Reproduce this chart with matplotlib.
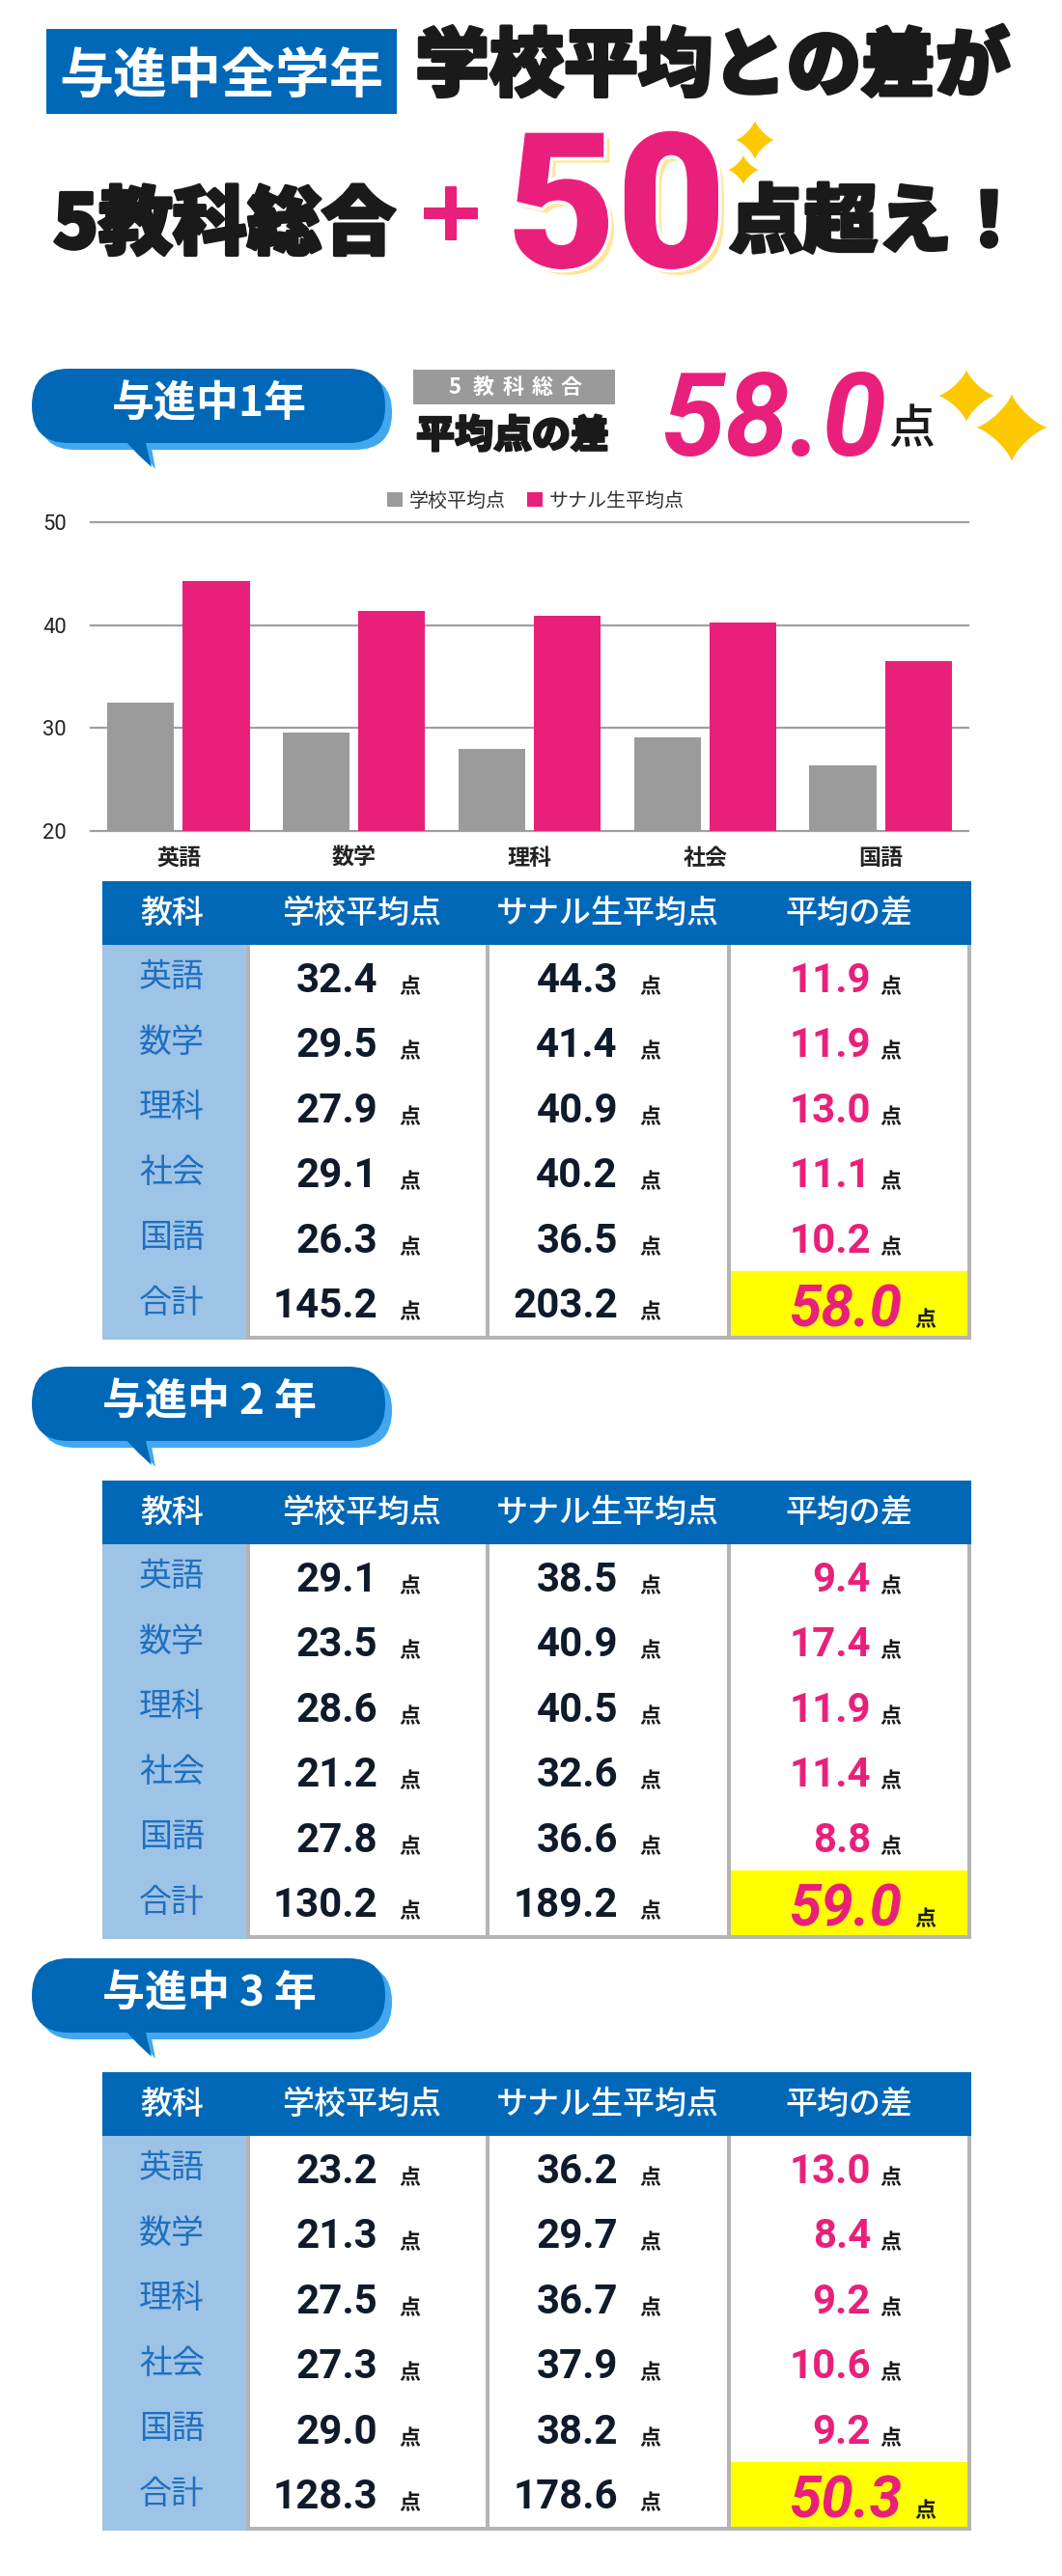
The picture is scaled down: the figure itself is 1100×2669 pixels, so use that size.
import numpy as np
import matplotlib
matplotlib.use("Agg")
import matplotlib.pyplot as plt
from matplotlib import font_manager as fm
from matplotlib import patheffects as pe
from matplotlib.patches import Rectangle, FancyBboxPatch, Polygon

# ---------------- data ----------------
subjects = ["英語", "数学", "理科", "社会", "国語"]
total_label = "合計"
series_names = ["学校平均点", "サナル生平均点"]
header_labels = ["教科", "学校平均点", "サナル生平均点", "平均の差"]
yticks = [20, 30, 40, 50]

g1_school = [32.4, 29.5, 27.9, 29.1, 26.3]
g1_sanaru = [44.3, 41.4, 40.9, 40.2, 36.5]
g1_diff = [11.9, 11.9, 13.0, 11.1, 10.2]
g1_total = [145.2, 203.2, 58.0]

g2_school = [29.1, 23.5, 28.6, 21.2, 27.8]
g2_sanaru = [38.5, 40.9, 40.5, 32.6, 36.6]
g2_diff = [9.4, 17.4, 11.9, 11.4, 8.8]
g2_total = [130.2, 189.2, 59.0]

g3_school = [23.2, 21.3, 27.5, 27.3, 29.0]
g3_sanaru = [36.2, 29.7, 36.7, 37.9, 38.2]
g3_diff = [13.0, 8.4, 9.2, 10.6, 9.2]
g3_total = [128.3, 178.6, 50.3]

grade_labels = ["与進中1年", "与進中 2 年", "与進中 3 年"]
headline_value = "58.0"

# ---------------- fonts / colours ----------------
def has(fam):
    try:
        fm.findfont(fm.FontProperties(family=fam), fallback_to_default=False)
        return True
    except Exception:
        return False

CJK = "Noto Sans CJK JP"
NUM = "Roboto" if has("Roboto") else "DejaVu Sans"
plt.rcParams["font.family"] = [CJK, "DejaVu Sans"]

BLUE = "#0068b7"
SHADOW = "#41a8f0"
LBLUE = "#9dc3e6"
PINK = "#e9207b"
CREAM = "#ffe79a"
GRAYBAR = "#9b9b9b"
TGRAY = "#b4b4b4"
YELLOW = "#ffff00"
NAVY = "#0f1a2a"
SPARK = "#fcc800"

W, H = 1100, 2669
fig = plt.figure(figsize=(W / 100, H / 100), dpi=100)
bg = fig.add_axes([0, 0, 1, 1])
bg.set_xlim(0, W)
bg.set_ylim(H, 0)
bg.axis("off")


def pt(pxv):
    return pxv * 0.72


def T(x, y, s, size, color="black", family=None, weight="normal", style="normal",
      ha="left", va="center", **kw):
    fam = family if family is not None else [CJK, "DejaVu Sans"]
    return bg.text(x, y, s, fontsize=pt(size), color=color, family=fam,
                   fontweight=weight, fontstyle=style, ha=ha, va=va, **kw)


def sparkle(cx, cy, rx, ry):
    t = np.linspace(0, 2 * np.pi, 200)
    c, s = np.cos(t), np.sin(t)
    xs = cx + rx * np.sign(c) * np.abs(c) ** 2.6
    ys = cy + ry * np.sign(s) * np.abs(s) ** 2.6
    bg.add_patch(Polygon(np.column_stack([xs, ys]), closed=True, fc=SPARK, ec="none"))


# ---------------- title ----------------
bg.add_patch(Rectangle((48, 30), 363, 88, fc=BLUE, ec="none"))
T(229, 74, "与進中全学年", 56, color="white", weight="bold", ha="center",
  va="center_baseline")
heavy = [pe.withStroke(linewidth=2.5, foreground="#1a1a1a")]
T(430, 70, "学校平均との差が", 77, color="#1a1a1a", weight="black", path_effects=heavy)
T(55, 257, "5教科総合", 77, color="#1a1a1a", weight="black", va="baseline",
  path_effects=heavy)
T(467, 248, "+", 86, color=PINK, family="DejaVu Sans", weight="bold", ha="center",
  va="baseline", path_effects=[pe.withStroke(linewidth=1.5, foreground=PINK)])
# big "50" with cream offset shadow and white gap (drawn as path effects of one text)
T(525, 277, "50", 196, color=PINK, family=NUM, weight="black", va="baseline",
  path_effects=[pe.SimplePatchShadow(offset=(4.3, -4.3), shadow_rgbFace=CREAM, alpha=1),
                pe.Stroke(linewidth=5, foreground="white"),
                pe.Normal()])
T(755, 232, "点超え！", 77, color="#1a1a1a", weight="black", path_effects=heavy)
sparkle(782, 145, 20, 20)
sparkle(770, 176, 16, 15)

# ---------------- speech bubbles ----------------
def bubble(top, label):
    x0, x1, h = 33, 399, 77
    bot = top + h
    bg.add_patch(FancyBboxPatch((x0 + 7, top + 7), x1 - x0, h,
                                boxstyle="round,pad=0,rounding_size=38",
                                fc=SHADOW, ec="none"))
    bg.add_patch(Polygon([(140, bot), (156, bot), (161, bot + 27), (150, bot + 14)],
                         closed=True, fc=SHADOW, ec="none"))
    bg.add_patch(FancyBboxPatch((x0, top), x1 - x0, h,
                                boxstyle="round,pad=0,rounding_size=38",
                                fc=BLUE, ec="none"))
    bg.add_patch(Polygon([(128, bot - 4), (150, bot - 4), (157, bot + 25),
                          (143, bot + 12)], closed=True, fc=BLUE, ec="none"))
    T(217, top + 37, label, 44, color="white", weight="bold", ha="center")


bubble(382, grade_labels[0])
bubble(1416, grade_labels[1])
bubble(2029, grade_labels[2])

# ---------------- grade 1 headline ----------------
bg.add_patch(Rectangle((428, 383), 209, 36, fc="#9a9a9a", ec="none"))
for i, ch in enumerate("5教科総合"):
    T(471 + 30.2 * i, 401, ch, 22, color="white", weight="bold", ha="center")
T(431, 452, "平均点の差", 40, color="#1a1a1a", weight="black",
  path_effects=[pe.withStroke(linewidth=1.5, foreground="#1a1a1a")])
T(684, 472, headline_value, 120, color=PINK, family=NUM, weight="bold",
  style="italic", va="baseline")
T(944, 445, "点", 48, color="#1a1a1a", weight="medium", ha="center")
sparkle(1001, 410, 29, 27)
sparkle(1048, 443, 37, 35)

# ---------------- bar chart ----------------
L_AX, R_AX, Y50, Y20 = 94, 1003, 541, 860.6
ax = fig.add_axes([L_AX / W, 1 - Y20 / H, (R_AX - L_AX) / W, (Y20 - Y50) / H])
ax.patch.set_alpha(0)
xpos = np.arange(len(subjects))
ax.bar(xpos - 0.215, g1_school, 0.38, color=GRAYBAR, label=series_names[0], zorder=2)
ax.bar(xpos + 0.215, g1_sanaru, 0.38, color=PINK, label=series_names[1], zorder=2)
ax.set_xlim(-0.5, len(subjects) - 0.5)
ax.set_ylim(yticks[0], yticks[-1])
ax.set_yticks(yticks)
ax.set_xticks(xpos)
ax.set_xticklabels(subjects, fontsize=pt(23), fontweight="bold", color="#222222",
                   family=[CJK, "DejaVu Sans"])
for lab in ax.get_yticklabels():
    lab.set_family(NUM)
    lab.set_fontsize(pt(22))
    lab.set_color("#222222")
ax.tick_params(axis="both", length=0)
ax.tick_params(axis="y", pad=pt(25))
ax.tick_params(axis="x", pad=pt(17))
ax.grid(axis="y", color="#a0a0a0", linewidth=1.6)
ax.set_axisbelow(True)
for gl in ax.get_ygridlines():
    gl.set_clip_on(False)
for s in ax.spines.values():
    s.set_visible(False)
leg = ax.legend(loc="center", bbox_to_anchor=(0.507, 1 + 22 / (Y20 - Y50)), ncol=2,
                frameon=False, prop={"family": [CJK, "DejaVu Sans"], "size": pt(20)},
                handlelength=0.8, handleheight=0.8, handletextpad=0.35,
                columnspacing=1.1, borderaxespad=0)
for t in leg.get_texts():
    t.set_color("#333333")


# ---------------- tables ----------------
def table(top, school, sanaru, diff, total):
    hdr_h, row_h = 66, 67.5
    Lx, Rx = 106, 1006
    bg.add_patch(Rectangle((Lx, top), Rx - Lx, hdr_h, fc=BLUE, ec="none"))
    bt = top + hdr_h
    nrow = len(subjects) + 1
    bb = bt + nrow * row_h
    bg.add_patch(Rectangle((Lx, bt), Rx - Lx, bb - bt + 4, fc=TGRAY, ec="none"))
    bg.add_patch(Rectangle((Lx, bt), 149, bb - bt + 4, fc=LBLUE, ec="none"))
    for a, b in [(259, 503), (507, 753), (757, 1002)]:
        bg.add_patch(Rectangle((a, bt), b - a, bb - bt, fc="white", ec="none"))
    bg.add_patch(Rectangle((757, bt + (nrow - 1) * row_h), 245, row_h, fc=YELLOW, ec="none"))
    for cx, lab in zip([178, 375, 629, 879], header_labels):
        T(cx, top + hdr_h / 2, lab, 33, color="white", weight="medium", ha="center")
    rows = list(zip(subjects, school, sanaru, diff))
    rows.append((total_label, total[0], total[1], total[2]))
    for i, (name, a, b, d) in enumerate(rows):
        cy = bt + i * row_h + row_h / 2
        base = cy + 15
        T(178, cy, name, 34, color="#1f6fc0", ha="center")
        T(391, base, f"{a:.1f}", 42, color=NAVY, family=NUM, weight="bold",
          ha="right", va="baseline")
        T(413, base + 1, "点", 22, color="#1a1a1a", weight="bold", va="baseline")
        T(640, base, f"{b:.1f}", 42, color=NAVY, family=NUM, weight="bold",
          ha="right", va="baseline")
        T(662, base + 1, "点", 22, color="#1a1a1a", weight="bold", va="baseline")
        if i < nrow - 1:
            T(902, base, f"{d:.1f}", 42, color=PINK, family=NUM, weight="bold",
              ha="right", va="baseline")
            T(911, base + 1, "点", 22, color="#1a1a1a", weight="bold", va="baseline")
        else:
            T(934, cy + 24, f"{d:.1f}", 60, color=PINK, family=NUM, weight="bold",
              style="italic", ha="right", va="baseline")
            T(947, cy + 24, "点", 22, color="#1a1a1a", weight="bold", va="baseline")


table(913, g1_school, g1_sanaru, g1_diff, g1_total)
table(1534, g2_school, g2_sanaru, g2_diff, g2_total)
table(2147, g3_school, g3_sanaru, g3_diff, g3_total)

fig.savefig("out.png", dpi=100)
